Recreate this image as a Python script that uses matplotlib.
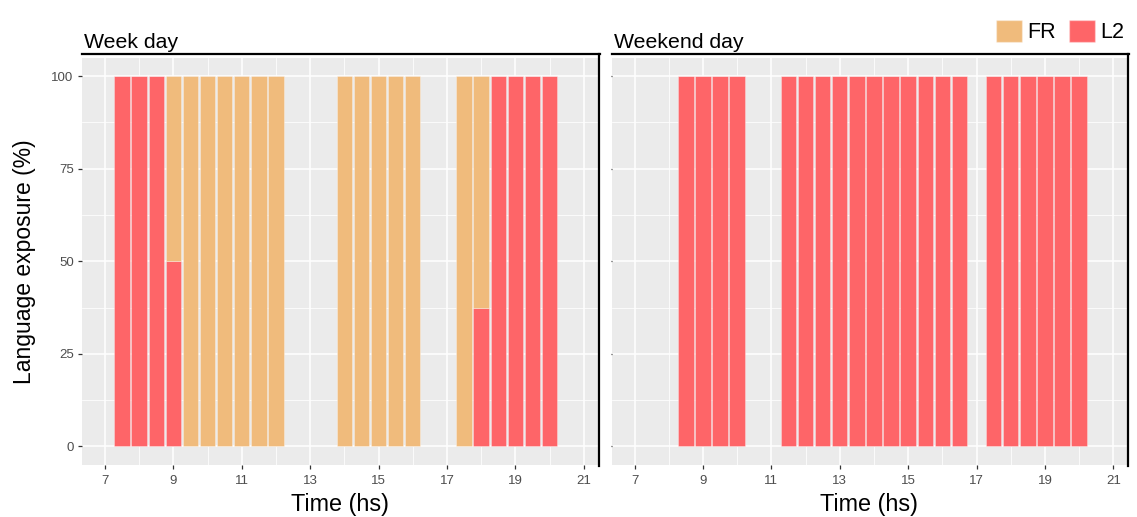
import matplotlib
matplotlib.use("Agg")
from matplotlib import pyplot as plt
from matplotlib.lines import Line2D
from matplotlib.patches import Patch

plt.rcParams['font.family'] = ['Liberation Sans', 'DejaVu Sans']

# half-hour slots (bar centres), share of each language in %
week_hours = [7.5, 8.0, 8.5, 9.0, 9.5, 10.0, 10.5, 11.0, 11.5, 12.0,
              14.0, 14.5, 15.0, 15.5, 16.0,
              17.5, 18.0, 18.5, 19.0, 19.5, 20.0]
week_l2 = [100, 100, 100, 50, 0, 0, 0, 0, 0, 0,
           0, 0, 0, 0, 0,
           0, 37.5, 100, 100, 100, 100]
week_fr = [0, 0, 0, 50, 100, 100, 100, 100, 100, 100,
           100, 100, 100, 100, 100,
           100, 62.5, 0, 0, 0, 0]

weekend_hours = [8.5, 9.0, 9.5, 10.0,
                 11.5, 12.0, 12.5, 13.0, 13.5, 14.0, 14.5, 15.0, 15.5, 16.0, 16.5,
                 17.5, 18.0, 18.5, 19.0, 19.5, 20.0]
weekend_l2 = [100, 100, 100, 100,
              100, 100, 100, 100, 100, 100, 100, 100, 100, 100, 100,
              100, 100, 100, 100, 100, 100]
weekend_fr = [0, 0, 0, 0,
              0, 0, 0, 0, 0, 0, 0, 0, 0, 0, 0,
              0, 0, 0, 0, 0, 0]

panels = ["Week day", "Weekend day"]
x_ticks = [7, 9, 11, 13, 15, 17, 19, 21]
y_ticks = [0, 25, 50, 75, 100]

FR_COL = "#F0BB7C"
L2_COL = "#FE6568"
W, H = 1137, 517

fig = plt.figure(figsize=(W / 100, H / 100), dpi=100)
ax1 = fig.add_axes([82 / W, 1 - 465 / H, (597.5 - 82) / W, (465 - 57.7) / H])
ax2 = fig.add_axes([611.7 / W, 1 - 465 / H, (1127 - 611.7) / W, (465 - 57.7) / H])

data = [(week_hours, week_l2, week_fr), (weekend_hours, weekend_l2, weekend_fr)]

for ax, name, (hrs, l2, fr) in zip([ax1, ax2], panels, data):
    ax.set_facecolor("#EBEBEB")
    ax.bar(hrs, l2, width=0.45, color=L2_COL, edgecolor=(1, 1, 1, 0.35), linewidth=0.6, zorder=3)
    ax.bar(hrs, fr, bottom=l2, width=0.45, color=FR_COL, edgecolor=(1, 1, 1, 0.35), linewidth=0.6, zorder=3)
    ax.set_xlim(6.33, 21.4)
    ax.set_ylim(-5, 105)
    ax.set_xticks(x_ticks)
    ax.set_xticks([8, 10, 12, 14, 16, 18, 20], minor=True)
    ax.set_yticks(y_ticks)
    ax.set_yticks([12.5, 37.5, 62.5, 87.5], minor=True)
    ax.grid(which="major", color="white", linewidth=1.1, zorder=0)
    ax.grid(which="minor", color="white", linewidth=0.55, zorder=0)
    ax.set_axisbelow(True)
    for s in ax.spines.values():
        s.set_visible(False)
    ax.tick_params(which="major", length=3, width=0.9, color="#333333",
                   labelcolor="#4D4D4D", labelsize=9.5, pad=3)
    ax.tick_params(axis="x", pad=4.5)
    ax.tick_params(which="minor", length=0)
    ax.set_xlabel("Time (hs)", fontsize=16.8, labelpad=4)
    # strip title
    ax.text(0.004, (465 - 48.3) / (465 - 57.7), name, transform=ax.transAxes,
            fontsize=15.3, ha="left", va="baseline")

ax2.tick_params(axis="y", length=1, labelleft=False)
ax1.set_ylabel("Language exposure (%)", fontsize=16.5, labelpad=11)

# strip underline and right border of each panel
for x0, x1 in [(82, 600), (611.7, 1129)]:
    fig.add_artist(Line2D([x0 / W, x1 / W], [1 - 54 / H, 1 - 54 / H], color="black",
                          linewidth=1.6, transform=fig.transFigure))
    fig.add_artist(Line2D([(x1 - 0.8) / W, (x1 - 0.8) / W], [1 - 54 / H, 1 - 465.5 / H],
                          color="black", linewidth=1.6, transform=fig.transFigure))

handles = [Patch(facecolor=FR_COL, edgecolor=(1, 1, 1, 0.35)), Patch(facecolor=L2_COL, edgecolor=(1, 1, 1, 0.35))]
fig.legend(handles, ["FR", "L2"], loc="upper right", bbox_to_anchor=(1124 / W, 1 - 20 / H),
           ncol=2, frameon=False, fontsize=15.5, handlelength=1.2, handleheight=1.2,
           handletextpad=0.25, columnspacing=0.6, borderpad=0, borderaxespad=0)

fig.savefig("out.png", dpi=100)
